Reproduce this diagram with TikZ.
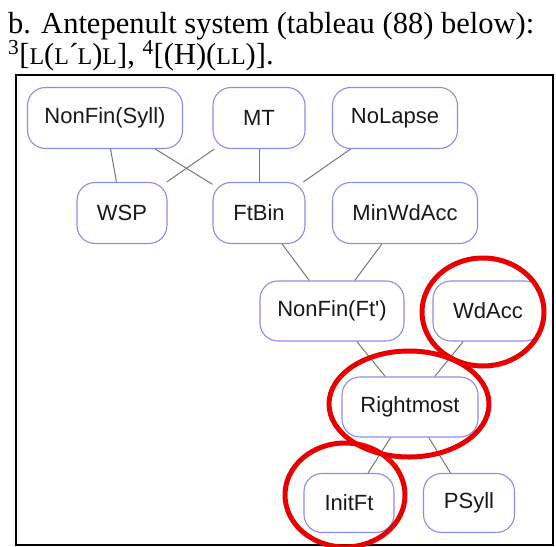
\documentclass[tikz,border=0pt]{standalone}
\usepackage{fontspec}
\setmainfont{Liberation Serif}
\newfontfamily\nodefont{Liberation Sans}
\definecolor{boxblue}{RGB}{140,140,235}
\definecolor{linkgray}{RGB}{120,120,120}
\definecolor{ringred}{RGB}{232,0,0}
% reduced capital L standing in for a small-cap letter
\newcommand\scL{{\fontsize{24}{24}\selectfont L}}
\newcommand\stressmark{\kern-0.5pt´\kern-1pt}
\begin{document}
\begin{tikzpicture}[x=1pt,y=-1pt,
  cbox/.style={draw=boxblue, line width=1.1pt, rounded corners=18pt, fill=white,
    minimum height=61pt, inner sep=0pt, text=black!90,
    font=\nodefont\fontsize{22}{22}\selectfont},
  link/.style={draw=linkgray, line width=1pt},
  redring/.style={draw=ringred, line width=5pt},
  heading/.style={anchor=base west, inner sep=0pt, font=\fontsize{30.5}{30.5}\selectfont}]
\useasboundingbox (0,0) rectangle (556,546);

% heading
\node[heading] (head1) at (8,33) {b. Antepenult system (tableau (88) below):};
\node[heading] (head2) at (8,64) {\textsuperscript{3}[\scL(\scL\stressmark\scL)\scL], \textsuperscript{4}[(H)(\scL\scL)].};

% frame
\draw[line width=2pt] (16,75) rectangle (553,545);

% constraint nodes
\node[cbox, minimum width=155pt] (nfs) at (105,118) {NonFin(Syll)};
\node[cbox, minimum width=92pt]  (mt)  at (259,118) {MT};
\node[cbox, minimum width=125pt] (nol) at (395,118) {NoLapse};
\node[cbox, minimum width=90pt]  (wsp) at (122,213) {WSP};
\node[cbox, minimum width=92pt]  (ftb) at (259,213) {FtBin};
\node[cbox, minimum width=145pt] (mwa) at (405,213) {MinWdAcc};
\node[cbox, minimum width=144pt, minimum height=60pt] (nff) at (332,311) {NonFin(Ft')};
\node[cbox, minimum width=110pt, minimum height=60pt] (wda) at (488,311) {WdAcc};
\node[cbox, minimum width=136pt, minimum height=60pt] (rgt) at (410,407) {Rightmost};
\node[cbox, minimum width=90pt, minimum height=59pt]  (ift) at (349,503) {InitFt};
\node[cbox, minimum width=91pt, minimum height=59pt]  (psy) at (469,503) {PSyll};

% ranking links
\draw[link] (nfs) -- (wsp);
\draw[link] (nfs) -- (ftb);
\draw[link] (mt) -- (wsp);
\draw[link] (mt) -- (ftb);
\draw[link] (nol) -- (ftb);
\draw[link] (ftb) -- (nff);
\draw[link] (mwa) -- (nff);
\draw[link] (nff) -- (rgt);
\draw[link] (wda) -- (rgt);
\draw[link] (rgt) -- (ift);
\draw[link] (rgt) -- (psy);

% highlight rings
\begin{scope}
\clip (0,0) rectangle (556,546);
\draw[redring] (wda.center) ++(-5,1) ellipse [x radius=61, y radius=54];
\draw[redring] (rgt.center) ++(-1,-3) ellipse [x radius=80, y radius=53];
\draw[redring] (ift.center) ++(-4,-8) ellipse [x radius=60, y radius=52];
\end{scope}
\end{tikzpicture}
\end{document}
